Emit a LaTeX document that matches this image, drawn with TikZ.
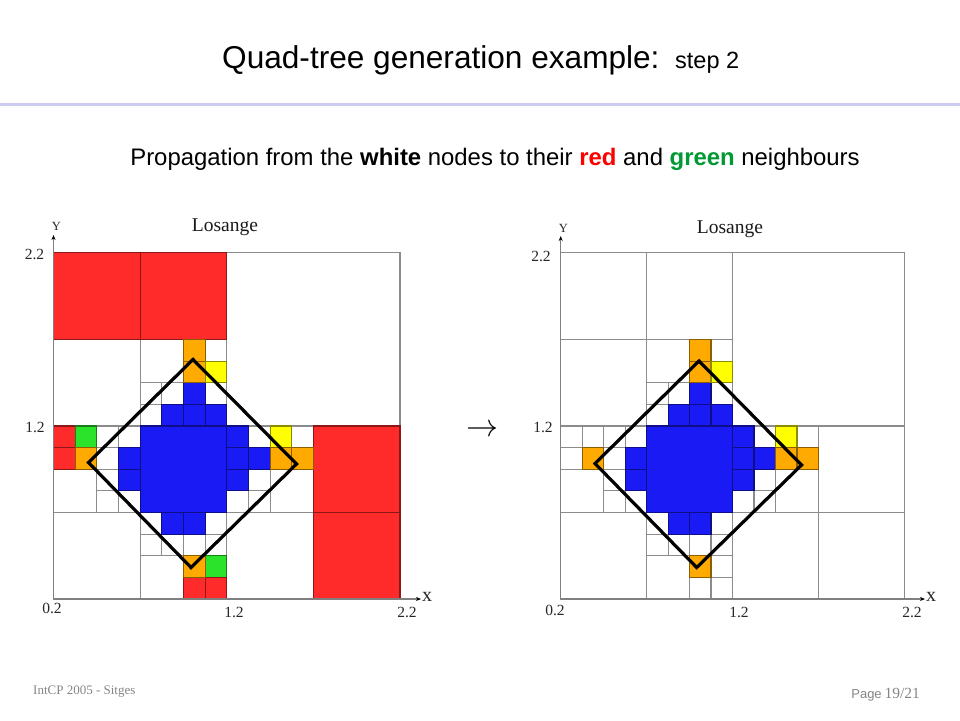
\documentclass[tikz,border=0pt]{standalone}
\usepackage{graphicx}
\usepackage{fontspec}
\setmainfont{Liberation Sans}
\newfontfamily\serifface{Liberation Serif}
\definecolor{qR}{HTML}{FF2A2A}
\definecolor{qG}{HTML}{2CE32C}
\definecolor{qB}{HTML}{1A1AF5}
\definecolor{qO}{HTML}{FFAA00}
\definecolor{qY}{HTML}{FFFF00}
\definecolor{rulecol}{HTML}{CCCCF0}
\definecolor{textred}{HTML}{FF0000}
\definecolor{textgreen}{HTML}{009933}
\definecolor{foot}{HTML}{858585}
\newcommand{\fs}[1]{\fontsize{#1}{#1}\selectfont}
\tikzset{
  axisline/.style={draw=black!50,line width=1.2pt,-{Stealth[length=5pt,width=4pt,color=black]}},
  lozenge/.style={draw=black,line width=3.2pt,line join=miter},
  tick/.style={font=\serifface\fs{15.5},text=black!85,inner sep=0pt},
  axisname/.style={font=\serifface,text=black!85,inner sep=0pt},
  headline/.style={font=\serifface\fs{19.5},text=black!90,inner sep=0pt},
}
\usetikzlibrary{arrows.meta}
% column / row / size / colour of the cells shared by both panels (white first)
\newcommand{\sharedwhite}{8/8/8/white,0/8/4/white,0/0/4/white,8/0/4/white,12/0/4/white,12/4/4/white,0/12/4/white,4/12/4/white,
 4/0/2/white,4/10/2/white,0/4/2/white,10/4/2/white,
 7/11/1/white,4/9/1/white,5/9/1/white,7/9/1/white,4/8/1/white,
 2/7/1/white,3/7/1/white,2/6/1/white,2/5/1/white,2/4/1/white,3/4/1/white,
 9/7/1/white,11/7/1/white,9/5/1/white,8/4/1/white,9/4/1/white,
 4/3/1/white,7/3/1/white,4/2/1/white,5/2/1/white,6/2/1/white,7/2/1/white}
\newcommand{\sharedcolour}{4/4/4/qB,5/8/1/qB,6/8/1/qB,7/8/1/qB,6/9/1/qB,3/6/1/qB,3/5/1/qB,8/7/1/qB,8/6/1/qB,9/6/1/qB,8/5/1/qB,5/3/1/qB,6/3/1/qB,
 6/11/1/qO,6/10/1/qO,7/10/1/qY,1/6/1/qO,10/7/1/qY,10/6/1/qO,11/6/1/qO,6/1/1/qO}
\newcommand{\leftcolour}{0/12/4/qR,4/12/4/qR,12/0/4/qR,12/4/4/qR,0/7/1/qR,0/6/1/qR,1/7/1/qG,7/1/1/qG,6/0/1/qR,7/0/1/qR}
\newcommand{\rightwhite}{0/7/1/white,1/7/1/white,0/6/1/white,7/1/1/white,6/0/1/white,7/0/1/white}
\newcommand{\putcells}[1]{\foreach \i/\j/\s/\c in #1 {\filldraw[draw=\c!55!black,fill=\c,line width=1.15pt] (\i,\j) rectangle +(\s,\s);}}
\begin{document}
\begin{tikzpicture}[x=1pt,y=-1pt]
\useasboundingbox (0,0) rectangle (960,720);
\fill[white] (0,0) rectangle (960,720);

\node[font=\fs{31.6},inner sep=0pt,anchor=base west] (title) at (222,68) {Quad-tree generation example:};
\node[font=\fs{23.5},inner sep=0pt,anchor=base west] (titlestep) at (675,68) {step 2};
\draw[rulecol,line width=3pt] (0,104) -- (960,104);
\node[font=\fs{23.9},inner sep=0pt,anchor=base] (subtitle) at (495,165) {Propagation from the \textbf{white} nodes to their \textcolor{textred}{\textbf{red}} and \textcolor{textgreen}{\textbf{green}} neighbours};

% left panel
\begin{scope}[shift={(53.5,599)},x=21.66pt,y=21.63pt]
  \putcells{\sharedwhite}
  \putcells{\leftcolour}
  \putcells{\sharedcolour}
\end{scope}
\coordinate (lo) at (53.5,599);
\coordinate (lx) at (421,599);
\coordinate (ly) at (53.5,235);
\draw[axisline] (lo) -- (lx);
\draw[axisline] (lo) -- (ly);
\coordinate (lt) at (193,359.5);
\coordinate (lr) at (296.5,464);
\coordinate (lb) at (191,567.5);
\coordinate (ll) at (88.5,462.5);
\draw[lozenge] (lt) -- (lr) -- (lb) -- (ll) -- cycle;
\node[headline] (lhead) at (225,227) {Losange};
\node[axisname,font=\serifface\fs{12.5}] (lyname) at (56.5,226.5) {Y};
\node[axisname,font=\serifface\fs{20}] (lxname) at (427,597) {x};
\node[tick] (l22y) at (34.5,254) {2.2};
\node[tick] (l12y) at (35,427) {1.2};
\node[tick] (l02) at (52,608) {0.2};
\node[tick] (l12x) at (234,612) {1.2};
\node[tick] (l22x) at (407,612) {2.2};

% arrow between the panels
\node[inner sep=0pt] (between) at (482,431) {\scalebox{3.2}{$\rightarrow$}};

% right panel
\begin{scope}[shift={(560.7,599)},x=21.48pt,y=21.63pt]
  \putcells{\sharedwhite}
  \putcells{\rightwhite}
  \putcells{\sharedcolour}
\end{scope}
\coordinate (ro) at (560.7,599);
\coordinate (rx) at (925,599);
\coordinate (ry) at (560.7,236);
\draw[axisline] (ro) -- (rx);
\draw[axisline] (ro) -- (ry);
\coordinate (rt) at (699,361);
\coordinate (rr) at (801.5,465);
\coordinate (rb) at (696.7,567.5);
\coordinate (rl) at (595,463.5);
\draw[lozenge] (rt) -- (rr) -- (rb) -- (rl) -- cycle;
\node[headline] (rhead) at (730,229) {Losange};
\node[axisname,font=\serifface\fs{12.5}] (ryname) at (563.5,228) {Y};
\node[axisname,font=\serifface\fs{20}] (rxname) at (931,597) {x};
\node[tick] (r22y) at (541,256) {2.2};
\node[tick] (r12y) at (543,427) {1.2};
\node[tick] (r02) at (555,610) {0.2};
\node[tick] (r12x) at (739,612) {1.2};
\node[tick] (r22x) at (912,612) {2.2};

% footer
\node[font=\serifface\fs{13},text=foot,inner sep=0pt,anchor=west] (footleft) at (33,692) {IntCP 2005 - Sitges};
\node[text=foot,inner sep=0pt,anchor=east] (footright) at (920,695) {{\fs{13}Page} {\serifface\fs{15.5}19/21}};
\end{tikzpicture}
\end{document}
